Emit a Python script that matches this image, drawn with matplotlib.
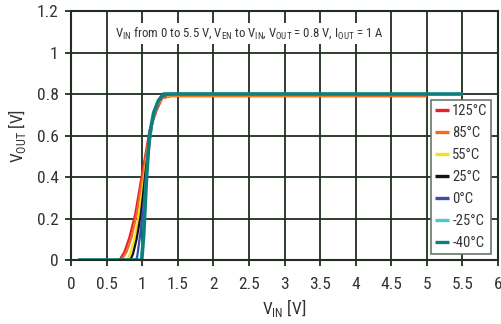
import matplotlib
matplotlib.use('Agg')
import matplotlib.pyplot as plt

# ====================== DATA ======================
labels = ["125°C", "85°C", "55°C", "25°C", "0°C", "-25°C", "-40°C"]
colors = ["#e8202a", "#f26b22", "#f5e214", "#111111", "#3a4fa8", "#4fc8d0", "#0e7f7f"]

vin_125 = [0.1, 0.6, 0.68, 0.75, 0.82, 0.9, 1.0, 1.1, 1.2, 1.28, 1.4, 5.0]
vout_125 = [0.0, -0.01, 0.0, 0.04, 0.11, 0.22, 0.42, 0.62, 0.72, 0.78, 0.79, 0.79]
vin_85 = [0.1, 0.63, 0.71, 0.78, 0.85, 0.92, 1.02, 1.11, 1.2, 1.28, 1.4, 5.0]
vout_85 = [0.0, -0.01, 0.0, 0.04, 0.11, 0.22, 0.43, 0.63, 0.73, 0.78, 0.79, 0.79]
vin_55 = [0.1, 0.7, 0.77, 0.83, 0.89, 0.95, 1.04, 1.12, 1.2, 1.28, 1.4, 4.0]
vout_55 = [0.0, -0.015, -0.01, 0.03, 0.1, 0.21, 0.43, 0.64, 0.74, 0.79, 0.795, 0.795]
vin_25 = [0.1, 0.75, 0.82, 0.87, 0.92, 0.98, 1.05, 1.13, 1.2, 1.28, 1.4, 4.0]
vout_25 = [0.0, -0.015, -0.01, 0.03, 0.1, 0.22, 0.44, 0.65, 0.75, 0.79, 0.8, 0.8]
vin_0 = [0.1, 0.85, 0.9, 0.93, 0.97, 1.02, 1.08, 1.14, 1.2, 1.28, 1.4, 4.0]
vout_0 = [0.0, -0.01, -0.02, 0.02, 0.12, 0.28, 0.5, 0.66, 0.75, 0.79, 0.8, 0.8]
vin_m25 = [0.1, 0.93, 0.98, 1.01, 1.05, 1.1, 1.16, 1.23, 1.3, 5.5]
vout_m25 = [0.0, 0.0, -0.01, 0.1, 0.35, 0.58, 0.7, 0.77, 0.8, 0.8]
vin_m40 = [0.1, 0.95, 0.99, 1.02, 1.06, 1.1, 1.16, 1.23, 1.3, 5.5]
vout_m40 = [0.0, 0.0, -0.01, 0.12, 0.4, 0.6, 0.71, 0.77, 0.8, 0.8]

vin_sets = [vin_125, vin_85, vin_55, vin_25, vin_0, vin_m25, vin_m40]
vout_sets = [vout_125, vout_85, vout_55, vout_25, vout_0, vout_m25, vout_m40]

x_ticks = [0, 0.5, 1, 1.5, 2, 2.5, 3, 3.5, 4, 4.5, 5, 5.5, 6]
x_ticklabels = ["0", "0.5", "1", "1.5", "2", "2.5", "3", "3.5", "4", "4.5", "5", "5.5", "6"]
y_ticks = [0, 0.2, 0.4, 0.6, 0.8, 1.0, 1.2]
y_ticklabels = ["0", "0.2", "0.4", "0.6", "0.8", "1", "1.2"]

# ====================== PLOT ======================
plt.rcParams['font.family'] = ['Roboto Condensed', 'DejaVu Sans']
plt.rcParams['mathtext.fontset'] = 'custom'
plt.rcParams['mathtext.rm'] = 'Roboto Condensed'
GRID = "#1f2e1f"
TXT = "#333333"

fig = plt.figure(figsize=(5.01, 3.24), dpi=100)
ax = fig.add_axes([0.142, 0.1975, 0.852, 0.7685])

widths = [1.6, 1.6, 1.6, 1.6, 1.6, 1.8, 2.6]
for vx, vy, c, lab, lw in zip(vin_sets, vout_sets, colors, labels, widths):
    ax.plot(vx, vy, color=c, lw=lw, label=lab, solid_capstyle='butt')

ax.set_xlim(0, 6)
ax.set_ylim(0, 1.2)
ax.set_xticks(x_ticks)
ax.set_xticklabels(x_ticklabels)
ax.set_yticks(y_ticks)
ax.set_yticklabels(y_ticklabels)
ax.grid(True, color=GRID, lw=1.3)
ax.set_axisbelow(True)
for s in ax.spines.values():
    s.set_color(GRID)
    s.set_linewidth(1.5)
ax.tick_params(colors=GRID, labelcolor=TXT, labelsize=12.5, width=1.3, length=4)
ax.tick_params(axis='x', pad=8)
ax.tick_params(axis='y', pad=5)

ax.set_xlabel("V$_{\\mathregular{IN}}$ [V]", fontsize=12.5, color=TXT, labelpad=4)
ax.set_ylabel("V$_{\\mathregular{OUT}}$ [V]", fontsize=12.5, color=TXT, labelpad=6)

ax.text(0.418, 0.91,
        "V$_{\\mathregular{IN}}$ from 0 to 5.5 V, V$_{\\mathregular{EN}}$ to V$_{\\mathregular{IN}}$, "
        "V$_{\\mathregular{OUT}}$ = 0.8 V, I$_{\\mathregular{OUT}}$ = 1 A",
        transform=ax.transAxes, ha='center', va='center', fontsize=9.2, color=TXT,
        bbox=dict(facecolor='white', edgecolor='none', pad=2))

leg = ax.legend(loc='lower right', bbox_to_anchor=(0.984, 0.025), fontsize=10.5,
                handlelength=1.0, handletextpad=0.2, borderpad=0.25, labelspacing=0.55,
                borderaxespad=0, fancybox=False, framealpha=1, edgecolor="#6b756b")
leg.get_frame().set_linewidth(1.2)
for h in leg.get_lines():
    h.set_linewidth(2.4)
for t in leg.get_texts():
    t.set_color(TXT)

plt.savefig("out.png", dpi=100)
plt.close()
